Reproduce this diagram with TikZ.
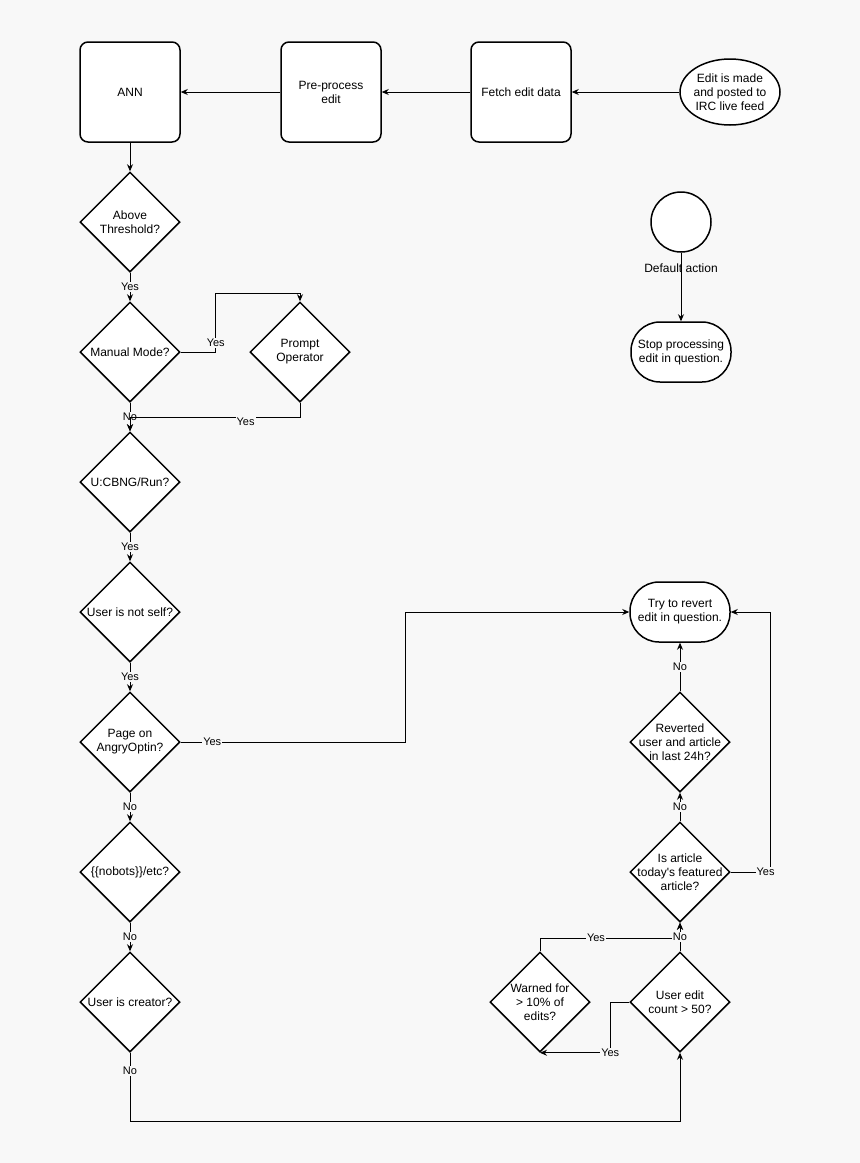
\documentclass[tikz,border=0pt]{standalone}
\usepackage{fontspec}
\setmainfont{Liberation Sans}
\usetikzlibrary{shapes.geometric}
\usetikzlibrary{arrows.meta}
\definecolor{page_grey}{RGB}{248, 248, 248}
\tikzset{
  box/.style={draw, line width=1.5pt, fill=white, rounded corners=8pt, minimum width=100pt, minimum height=100pt, align=center},
  decision/.style={diamond, draw, line width=1.5pt, fill=white, minimum width=100pt, minimum height=100pt, inner sep=0pt, label={[align=center]center:#1}},
  source/.style={ellipse, draw, line width=1.5pt, fill=white, minimum width=100pt, minimum height=66pt, inner sep=0pt, label={[align=center]center:#1}},
  terminal/.style={draw, line width=1.5pt, fill=white, rounded corners=29pt, minimum width=100pt, minimum height=60pt, align=center},
  flow/.style={line width=0.9pt, -{Stealth[length=7pt,width=6pt]}},
  answer/.style={fill=page_grey, inner sep=1pt, font=\fontsize{11}{13}\selectfont}
}
\begin{document}
\begin{tikzpicture}[x=1pt, y=-1pt, font=\fontsize{12}{14}\selectfont]
\fill[page_grey] (0,0) rectangle (860,1163);
\useasboundingbox (0,0) rectangle (860,1163);
% top row
\node[box] (ann) at (130,92) {ANN};
\node[box] (prep) at (331,92) {Pre-process\\edit};
\node[box] (fetch) at (521,92) {Fetch edit data};
\node[source={Edit is made\\and posted to\\IRC live feed}] (feed) at (730,92) {};
% left column
\node[decision={Above\\Threshold?}] (thr) at (130,222) {};
\node[decision={Manual Mode?}] (manual) at (130,352) {};
\node[decision={Prompt\\Operator}] (prompt) at (300,352) {};
\node[decision={U:CBNG/Run?}] (run) at (130,482) {};
\node[decision={User is not self?}] (self) at (130,612) {};
\node[decision={Page on\\AngryOptin?}] (optin) at (130,742) {};
\node[decision={\{\{nobots\}\}/etc?}] (nobots) at (130,872) {};
\node[decision={User is creator?}] (creator) at (130,1002) {};
% right column
\node[circle, draw, line width=1.5pt, fill=white, minimum size=60pt] (dflt) at (681,222) {};
\node[terminal] (stop) at (681,352) {Stop processing\\edit in question.};
\node[terminal] (revert) at (680,612) {Try to revert\\edit in question.};
\node[decision={Reverted\\user and article\\in last 24h?}] (rev24) at (680,742) {};
\node[decision={Is article\\today\textquotesingle s featured\\article?}] (feat) at (680,872) {};
\node[decision={User edit\\count > 50?}] (count) at (680,1002) {};
\node[decision={Warned for\\> 10\% of\\edits?}] (warn) at (540,1002) {};
\coordinate (j1) at (130,417);
\coordinate (j2) at (680,938);

\draw[flow] (feed) -- (fetch);
\draw[flow] (fetch) -- (prep);
\draw[flow] (prep) -- (ann);
\draw[flow] (ann) -- (thr);
\draw[flow] (thr) -- node[answer]{Yes} (manual);
\draw[flow] (manual.east) -- ++(35,0) -- node[answer, pos=0.15]{Yes} ++(0,-59) -| (prompt.north);
\draw[flow] (manual) -- node[answer]{No} (run);
\draw[flow] (prompt.south) |- node[answer, pos=0.66, yshift=-5pt]{Yes} (j1) -- (run.north);
\draw[flow] (run) -- node[answer]{Yes} (self);
\draw[flow] (self) -- node[answer]{Yes} (optin);
\draw[flow] (optin.east) -- node[answer, pos=0.14]{Yes} ++(225,0) |- (revert.west);
\draw[flow] (optin) -- node[answer]{No} (nobots);
\draw[flow] (nobots) -- node[answer]{No} (creator);
\draw[flow] (creator.south) -- node[answer, pos=0.26]{No} ++(0,69) -| (count.south);
\draw[flow] (warn.north) |- node[answer, pos=0.7]{Yes} (j2) -- (feat.south);
\draw[flow] (count) -- node[answer]{No} (feat);
\draw[flow] (count.west) -- ++(-19,0) |- node[answer, pos=0.5]{Yes} (warn.south);
\draw[flow] (feat) -- node[answer]{No} (rev24);
\draw[flow] (rev24) -- node[answer]{No} (revert);
\draw[flow] (feat.east) -- node[answer, pos=0.87]{Yes} ++(40,0) |- (revert.east);
\draw[flow] (dflt) -- node[pos=0.23]{Default action} (stop);
\end{tikzpicture}
\end{document}
